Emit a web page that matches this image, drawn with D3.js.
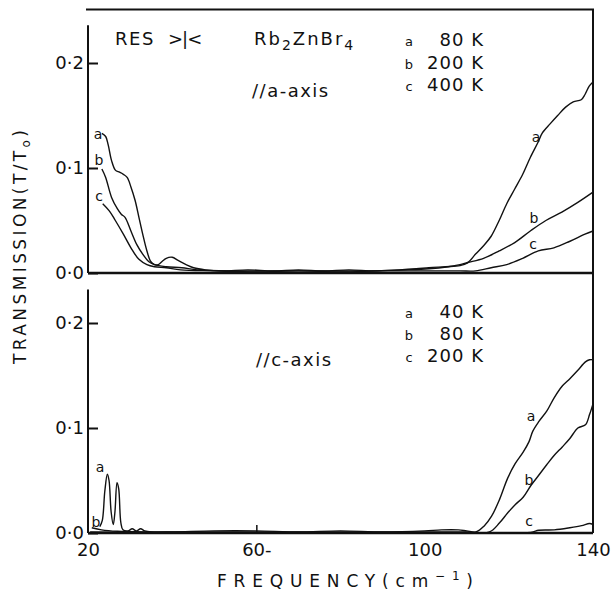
<!DOCTYPE html>
<html>
<head>
<meta charset="utf-8">
<script src="https://cdn.jsdelivr.net/npm/d3@7"></script>
<style>
  body { margin: 0; background: #fff; }
  svg text { font-family: "DejaVu Sans", sans-serif; fill: #111; }
</style>
</head>
<body>
<svg class="chart" width="612" height="592"></svg>
<script>
// ---- data: [frequency cm-1, T/T0]
const aAxis80K = [[23.3,0.133],[24.2,0.130],[24.8,0.122],[25.6,0.107],[26.5,0.098],[27.5,0.096],[28.4,0.094],[29.3,0.091],[30.2,0.082],[31.2,0.069],[32.1,0.053],[33.0,0.037],[34.0,0.021],[34.9,0.011],[35.8,0.008],[36.7,0.008],[37.6,0.011],[38.6,0.014],[40.0,0.015],[41.4,0.012],[43.3,0.008],[45.1,0.005],[47.9,0.003],[52,0.002],[58,0.003],[64,0.002],[70,0.003],[76,0.002],[82,0.003],[88,0.002],[94,0.003],[98,0.004],[101,0.005],[105,0.006],[108.4,0.007],[110.2,0.0096],[112.1,0.018],[114,0.026],[115.8,0.035],[117.7,0.05],[119.5,0.066],[121.4,0.08],[123.3,0.094],[125.1,0.11],[127,0.125],[127.9,0.133],[129.8,0.142],[131.6,0.15],[133.5,0.158],[135.3,0.163],[137.2,0.165],[138.1,0.17],[139.1,0.178],[140,0.182]];
const aAxis200K = [[23.3,0.099],[24.2,0.091],[25.6,0.072],[27,0.061],[27.9,0.056],[28.8,0.053],[30.2,0.04],[31.6,0.027],[33,0.018],[34.4,0.011],[35.8,0.008],[38.6,0.006],[42.3,0.005],[46,0.003],[55,0.002],[65,0.002],[75,0.002],[85,0.002],[95,0.003],[101,0.004],[105.6,0.006],[108.4,0.008],[110.2,0.010],[114,0.014],[117.7,0.021],[121.4,0.029],[125.1,0.040],[128.8,0.05],[132.6,0.058],[136.3,0.067],[140,0.077]];
const aAxis400K = [[23.5,0.066],[25.1,0.059],[26.5,0.05],[28.4,0.037],[30.2,0.024],[32.1,0.013],[34,0.008],[35.8,0.006],[38.6,0.005],[42,0.003],[50,0.002],[60,0.001],[70,0.002],[80,0.001],[90,0.002],[100,0.002],[108.4,0.002],[112.1,0.002],[115.8,0.005],[119.5,0.008],[123.3,0.014],[127,0.021],[130.7,0.024],[134.4,0.030],[138.1,0.037],[140,0.040]];

const cAxis40K = [[22.8,0.006],[23.4,0.012],[24.0,0.04],[24.6,0.056],[25.0,0.05],[25.5,0.02],[26.0,0.008],[26.4,0.02],[26.9,0.048],[27.3,0.042],[27.8,0.01],[28.3,0.003],[29.5,0.002],[30.5,0.004],[31.5,0.002],[32.5,0.004],[33.5,0.002],[35,0.001],[40,0.001],[50,0.002],[60,0.002],[70,0.001],[80,0.002],[90,0.001],[100,0.002],[104,0.003],[108,0.003],[110,0.002],[112.2,0.001],[114.1,0.0065],[115.9,0.016],[117.8,0.032],[119.7,0.052],[121.5,0.066],[123.4,0.077],[124.8,0.087],[125.7,0.097],[127.1,0.106],[129,0.116],[130.8,0.129],[132.7,0.14],[134.5,0.147],[136.4,0.155],[138.2,0.163],[139.2,0.165],[140,0.165]];
const cAxis80K = [[20.9,0.005],[23.2,0.003],[27,0.0016],[35,0.001],[50,0.001],[70,0.001],[90,0.001],[110,0.001],[115.4,0.001],[117.8,0.0097],[119.7,0.019],[121.5,0.027],[123.4,0.034],[125.2,0.045],[127.1,0.055],[129,0.065],[130.8,0.074],[132.7,0.082],[134.5,0.09],[136.4,0.1],[138.2,0.103],[139.2,0.113],[140,0.123]];
const cAxis200K = [[20.5,0.001],[60,0.0],[100,0.0],[125.2,0.0006],[127.1,0.0026],[130.8,0.003],[134.5,0.005],[137.3,0.007],[139.2,0.009],[140,0.008]];

const yTicks = [0, 0.1, 0.2];
const xTicks = [20, 60, 100, 140];
const xTickLabels = ['20', '60-', '100', '140'];
const topLegend = [['a', '80 K'], ['b', '200 K'], ['c', '400 K']];
const bottomLegend = [['a', '40 K'], ['b', '80 K'], ['c', '200 K']];

let svg = d3.select('.chart');

let xScale = d3.scaleLinear().domain([20, 140]).range([88, 593]);
let yTop = d3.scaleLinear().domain([0, 0.2]).range([273, 63]);
let yBot = d3.scaleLinear().domain([0, 0.2]).range([533, 323]);

let line = (y) => d3.line().x(d => xScale(d[0])).y(d => y(d[1])).curve(d3.curveCatmullRom.alpha(0.5));

// frame
let frame = svg.append('g').attr('stroke', '#111').attr('stroke-width', 2).attr('fill', 'none');
frame.append('line').attr('x1', xScale(20) - 2).attr('x2', xScale(140) + 1).attr('y1', yTop(0.251)).attr('y2', yTop(0.251));
frame.append('line').attr('x1', xScale(140)).attr('x2', xScale(140)).attr('y1', yTop(0.251)).attr('y2', yBot(0));
frame.append('line').attr('x1', xScale(20)).attr('x2', xScale(20)).attr('y1', yTop(0.236)).attr('y2', yTop(0));
frame.append('line').attr('x1', xScale(20)).attr('x2', xScale(20)).attr('y1', yBot(0.232)).attr('y2', yBot(0));
frame.append('line').attr('x1', xScale(20)).attr('x2', xScale(140)).attr('y1', yTop(0)).attr('y2', yTop(0)).attr('stroke-width', 2.5);
frame.append('line').attr('x1', xScale(20)).attr('x2', xScale(140)).attr('y1', yBot(0)).attr('y2', yBot(0)).attr('stroke-width', 2.5);

// y axes, ticks pointing inward
[yTop, yBot].forEach(y => {
    let g = svg.append('g')
        .attr('transform', `translate(${xScale(20)},0)`)
        .call(d3.axisLeft(y)
            .tickValues(yTicks)
            .tickSizeInner(-10)
            .tickSizeOuter(0)
            .tickPadding(4)
            .tickFormat(d => d3.format('.1f')(d).replace('.', '·')));
    g.select('.domain').remove();
    g.selectAll('.tick line').attr('stroke', '#111').attr('stroke-width', 2);
    g.selectAll('.tick text').attr('font-size', 18).attr('font-family', '"DejaVu Sans", sans-serif').attr('fill', '#111');
});

// x axis labels under the bottom panel
let xg = svg.append('g')
    .attr('transform', `translate(0,${yBot(0)})`)
    .call(d3.axisBottom(xScale)
        .tickValues(xTicks)
        .tickSizeInner(-8)
        .tickSizeOuter(0)
        .tickPadding(10)
        .tickFormat((d, i) => xTickLabels[i]));
xg.select('.domain').remove();
xg.selectAll('.tick line').attr('stroke', '#111').attr('stroke-width', 1.5)
    .attr('opacity', (d, i) => (i == 1 ? 1 : 0));
xg.selectAll('.tick text').attr('font-size', 18).attr('font-family', '"DejaVu Sans", sans-serif').attr('fill', '#111');

// curves
let curves = svg.append('g').attr('fill', 'none').attr('stroke', '#111').attr('stroke-width', 1.4);
[aAxis80K, aAxis200K, aAxis400K].forEach(s => curves.append('path').attr('d', line(yTop)(s)));
[cAxis40K, cAxis80K, cAxis200K].forEach(s => curves.append('path').attr('d', line(yBot)(s)));

// curve letters
let letters = [
    ['a', 98, 134], ['b', 99, 160], ['c', 99, 196],
    ['a', 536, 137], ['b', 534, 218], ['c', 533, 244],
    ['a', 100, 467], ['b', 96, 522],
    ['a', 531, 416], ['b', 529, 480], ['c', 529, 521]
];
svg.append('g').selectAll('text').data(letters).join('text')
    .attr('x', d => d[1]).attr('y', d => d[2])
    .attr('text-anchor', 'middle').attr('dominant-baseline', 'central')
    .attr('font-size', 14)
    .text(d => d[0]);

// annotations
svg.append('text').attr('x', 115).attr('y', 45).attr('font-size', 18).attr('letter-spacing', 1.5).text('RES');
svg.append('text').attr('x', 168).attr('y', 45).attr('font-size', 18).attr('letter-spacing', -1).text('>|<');

let rb = svg.append('text').attr('x', 254).attr('y', 45).attr('font-size', 18).attr('letter-spacing', 2);
rb.append('tspan').text('Rb');
rb.append('tspan').attr('dy', 5).attr('font-size', 14).text('2');
rb.append('tspan').attr('dy', -5).text('ZnBr');
rb.append('tspan').attr('dy', 5).attr('font-size', 14).text('4');

svg.append('text').attr('x', 252).attr('y', 97).attr('font-size', 18).attr('letter-spacing', 1.5).text('//a-axis');
svg.append('text').attr('x', 256).attr('y', 366).attr('font-size', 18).attr('letter-spacing', 1.5).text('//c-axis');

let legend = (rows, y0, step) => {
    let g = svg.append('g');
    rows.forEach((r, i) => {
        g.append('text').attr('x', 409).attr('y', y0 + i * step).attr('font-size', 13)
            .attr('text-anchor', 'middle').text(r[0]);
        g.append('text').attr('x', 484).attr('y', y0 + i * step).attr('font-size', 18)
            .attr('text-anchor', 'end').attr('letter-spacing', 1).text(r[1]);
    });
};
legend(topLegend, 46, 22.5);
legend(bottomLegend, 318, 22);

// axis titles
let xt = svg.append('text').attr('x', 345).attr('y', 587).attr('font-size', 17)
    .attr('text-anchor', 'middle').attr('textLength', 256).attr('lengthAdjust', 'spacing');
xt.append('tspan').text('FREQUENCY(cm');
xt.append('tspan').attr('dy', -7).attr('font-size', 12).text('−1');
xt.append('tspan').attr('dy', 7).text(')');

let yt = svg.append('text').attr('transform', 'translate(26,247) rotate(-90)')
    .attr('font-size', 17).attr('text-anchor', 'middle')
    .attr('textLength', 234).attr('lengthAdjust', 'spacing');
yt.append('tspan').text('TRANSMISSION(T/T');
yt.append('tspan').attr('dy', 4).attr('font-size', 12).text('o');
yt.append('tspan').attr('dy', -4).text(')');
</script>
</body>
</html>
